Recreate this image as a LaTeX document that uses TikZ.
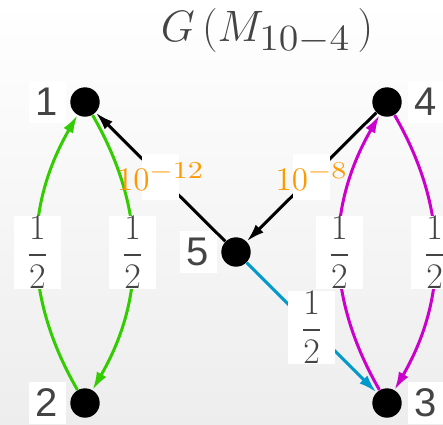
\RequirePackage{fix-cm}
\documentclass[tikz,border=0pt]{standalone}
\usepackage{amsmath}
\usepackage{graphicx}
\usepackage{fontspec}
\newfontfamily\numfont{Liberation Sans}
\usetikzlibrary{positioning,arrows.meta}
\definecolor{txtgray}{HTML}{444444}
\definecolor{pworange}{HTML}{FF9900}
\definecolor{egreen}{HTML}{33CC00}
\definecolor{emagenta}{HTML}{CC00CC}
\definecolor{eblue}{HTML}{0099CC}
\newcommand{\wsup}[1]{^{\scalebox{1.3}[1.05]{$\scriptstyle#1$}}}

\begin{document}
\begin{tikzpicture}[x=0.5pt,y=-0.5pt,>={Latex[length=9pt,width=5.5pt]},
  vtx/.style={circle,fill=black,minimum size=14.7pt,inner sep=0pt},
  num/.style={fill=white,text=txtgray,inner sep=0pt,minimum width=18.5pt,minimum height=21pt,
    font=\numfont\fontsize{20}{24}\selectfont},
  frac/.style={fill=white,text=txtgray,inner sep=0pt,minimum width=23.5pt,minimum height=35pt,
    font=\fontsize{18}{22}\selectfont},
  pow/.style={fill=white,text=pworange,inner sep=0pt,minimum width=18.5pt,minimum height=23pt,
    font=\fontsize{16.5}{20}\selectfont},
  arc/.style={->,line width=1.5pt}]
  \useasboundingbox (0,0) rectangle (443,424);
  \shade[top color=white,bottom color=black!7] (0,0) rectangle (443,424);
  \node[text=txtgray,font=\fontsize{22}{26}\selectfont] (title) at (267,31)
    {$G\left(M_{\scalebox{1.3}[1.2]{$\scriptstyle 10-4$}}\,\right)$};
  % vertices
  \node[vtx,label={[num,label distance=2pt]left:1}] (n1) at (85,102) {};
  \node[vtx,label={[num,label distance=2pt]left:2}] (n2) at (85,403) {};
  \node[vtx,label={[num,label distance=2.5pt]right:3}] (n3) at (387,403) {};
  \node[vtx,label={[num,label distance=2.5pt]right:4}] (n4) at (387,102) {};
  \node[vtx,label={[num,label distance=2pt]left:5}] (n5) at (236,252) {};
  % green pair 1 <-> 2
  \draw[arc,egreen] (n2) to[bend left=30] node[frac]{$\dfrac{1}{2}$} (n1);
  \draw[arc,egreen] (n1) to[bend left=30] node[frac]{$\dfrac{1}{2}$} (n2);
  % magenta pair 3 <-> 4
  \draw[arc,emagenta] (n3) to[bend left=30] node[frac]{$\dfrac{1}{2}$} (n4);
  \draw[arc,emagenta] (n4) to[bend left=30] node[frac]{$\dfrac{1}{2}$} (n3);
  % through the middle vertex
  \draw[arc,black] (n5) -- node[pow]{\makebox[0pt]{$10\wsup{-12}$}} (n1);
  \draw[arc,black] (n4) -- node[pow]{\makebox[0pt]{$10\wsup{-8}$}} (n5);
  \draw[arc,eblue] (n5) -- node[frac]{$\dfrac{1}{2}$} (n3);
\end{tikzpicture}
\end{document}
